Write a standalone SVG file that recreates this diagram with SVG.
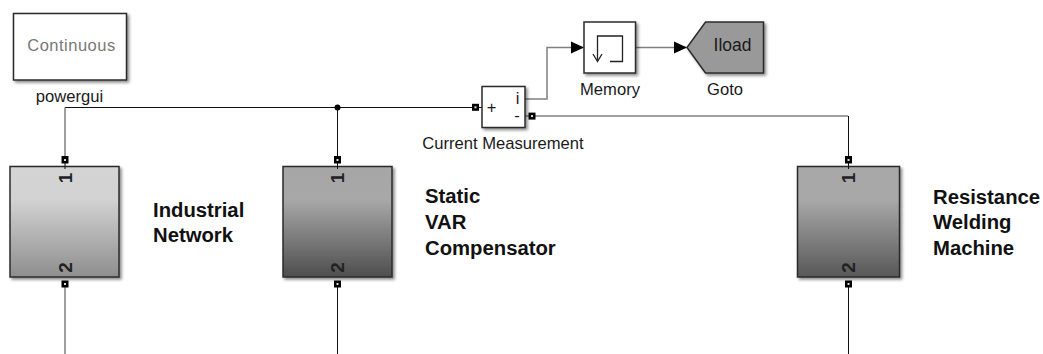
<svg xmlns="http://www.w3.org/2000/svg" width="1043" height="354" viewBox="0 0 1043 354">
<style>
text{font-family:"Liberation Sans",Arial,sans-serif;fill:#1a1a1a}
.lbl{font-size:16.600px;text-anchor:middle}
.bold{font-size:20.300px;font-weight:bold;fill:#111}
.blk{stroke:#2b2b2b;stroke-width:1.500;fill:#fff;filter:url(#sh)}
.w{fill:none;stroke:#111;stroke-width:1}
.g{fill:none;stroke:#808080;stroke-width:1.500}
.port{fill:#000}
.pi{fill:#ddd}
.num{font-size:19px;font-weight:bold;text-anchor:middle;fill:#222}
</style>
<defs>
<filter id="sh" x="-10%" y="-10%" width="125%" height="125%"><feDropShadow dx="2" dy="2" stdDeviation="1.500" flood-color="#000" flood-opacity=".45"/></filter>
<linearGradient id="g1" x1="0" y1="0" x2="0" y2="1"><stop offset="0" stop-color="#d4d4d4"/><stop offset=".3" stop-color="#d2d2d2"/><stop offset="1" stop-color="#8e8e8e"/></linearGradient>
<linearGradient id="g2" x1="0" y1="0" x2="0" y2="1"><stop offset="0" stop-color="#a6a6a6"/><stop offset=".3" stop-color="#a8a8a8"/><stop offset="1" stop-color="#4e4e4e"/></linearGradient>
<linearGradient id="g3" x1="0" y1="0" x2="0" y2="1"><stop offset="0" stop-color="#a8a8a8"/><stop offset=".3" stop-color="#a8a8a8"/><stop offset="1" stop-color="#585858"/></linearGradient>
<marker id="ah" markerUnits="userSpaceOnUse" markerWidth="14" markerHeight="14" refX="13" refY="7" orient="auto"><path d="M0 1L13 7L0 13Z" fill="#000"/></marker>
</defs>
<g id="connectors">
<path class="w" d="M65 107.500H482"/>
<path class="g" d="M65 107.500V160"/>
<path class="w" d="M337.500 107.500V160"/>
<circle cx="337.500" cy="107.500" r="3" fill="#000"/>
<path class="g" d="M65 284V354"/>
<path class="w" d="M337.500 284V354"/>
<path class="g" d="M525 116H848"/>
<path class="w" d="M848.500 116V160"/>
<path class="w" d="M848.500 284V354"/>
<path class="g" d="M525 99H547V47.500H584" marker-end="url(#ah)"/>
<path class="g" d="M636 47.500H687" marker-end="url(#ah)"/>
</g>
<g id="powergui">
<rect class="blk" x="13.500" y="13.500" width="113" height="66.500"/>
<text x="71.500" y="50.500" font-size="16.500" text-anchor="middle" letter-spacing=".5" style="fill:#777">Continuous</text>
<text class="lbl" x="69.500" y="101.500">powergui</text>
</g>
<g id="industrial-network">
<rect class="blk" x="10" y="166.500" width="109" height="110.500" style="fill:url(#g1)"/>
<path class="w" d="M65 163V169"/>
<text class="num" transform="translate(71.500,178) rotate(-90)">1</text>
<text class="num" transform="translate(71.500,267.500) rotate(-90)">2</text>
<rect class="port" x="61.500" y="156" width="7" height="7.500"/><rect class="pi" x="64" y="159" width="2" height="2"/>
<rect class="port" x="61.500" y="280.500" width="7" height="7"/><rect class="pi" x="64" y="283" width="2" height="2"/>
<text class="bold" x="153" y="217">Industrial</text>
<text class="bold" x="153" y="242">Network</text>
</g>
<g id="static-var-compensator">
<rect class="blk" x="283" y="166.500" width="109" height="110.500" style="fill:url(#g2)"/>
<path class="w" d="M337.500 163V169"/>
<text class="num" transform="translate(344,178) rotate(-90)">1</text>
<text class="num" transform="translate(344,267.500) rotate(-90)">2</text>
<rect class="port" x="334" y="156" width="7" height="7.500"/><rect class="pi" x="336.500" y="159" width="2" height="2"/>
<rect class="port" x="334" y="280.500" width="7" height="7"/><rect class="pi" x="336.500" y="283" width="2" height="2"/>
<text class="bold" x="425" y="203">Static</text>
<text class="bold" x="425" y="229">VAR</text>
<text class="bold" x="425" y="255">Compensator</text>
</g>
<g id="resistance-welding-machine">
<rect class="blk" x="797.500" y="166.500" width="102" height="110.500" style="fill:url(#g3)"/>
<path class="w" d="M848.500 163V169"/>
<text class="num" transform="translate(855,178) rotate(-90)">1</text>
<text class="num" transform="translate(855,267.500) rotate(-90)">2</text>
<rect class="port" x="845" y="156" width="7" height="7.500"/><rect class="pi" x="847.500" y="159" width="2" height="2"/>
<rect class="port" x="845" y="280.500" width="7" height="7"/><rect class="pi" x="847.500" y="283" width="2" height="2"/>
<text class="bold" x="933" y="204">Resistance</text>
<text class="bold" x="933" y="229">Welding</text>
<text class="bold" x="933" y="255">Machine</text>
</g>
<g id="current-measurement">
<rect class="blk" x="482" y="86.500" width="43" height="41"/>
<text x="491.500" y="112.500" font-size="16.500" text-anchor="middle">+</text>
<text x="517.500" y="104" font-size="16.500" text-anchor="middle">i</text>
<text x="517" y="121" font-size="16.500" text-anchor="middle">-</text>
<rect class="port" x="472" y="103.800" width="7" height="7"/><rect class="pi" x="474.500" y="106.300" width="2" height="2"/>
<rect class="port" x="528.500" y="112.600" width="7" height="7"/><rect class="pi" x="531" y="115.100" width="2" height="2"/>
<text class="lbl" x="503" y="148.500">Current Measurement</text>
</g>
<g id="memory">
<rect class="blk" x="584" y="22" width="51.500" height="51"/>
<path d="M597.500 60V36H622.500V61.500H610" fill="none" stroke="#222" stroke-width="1.300"/>
<path d="M593 54L597.500 61.500L602 54" fill="none" stroke="#222" stroke-width="1.300"/>
<text class="lbl" x="610" y="94.500">Memory</text>
</g>
<g id="goto">
<path d="M687 47.500L705.500 22H763.500V73H705.500Z" fill="#999" stroke="#2b2b2b" stroke-width="1.500" filter="url(#sh)"/>
<text x="732.500" y="50.500" font-size="17.500" text-anchor="middle">Iload</text>
<text class="lbl" x="725" y="94.500">Goto</text>
</g>
</svg>
